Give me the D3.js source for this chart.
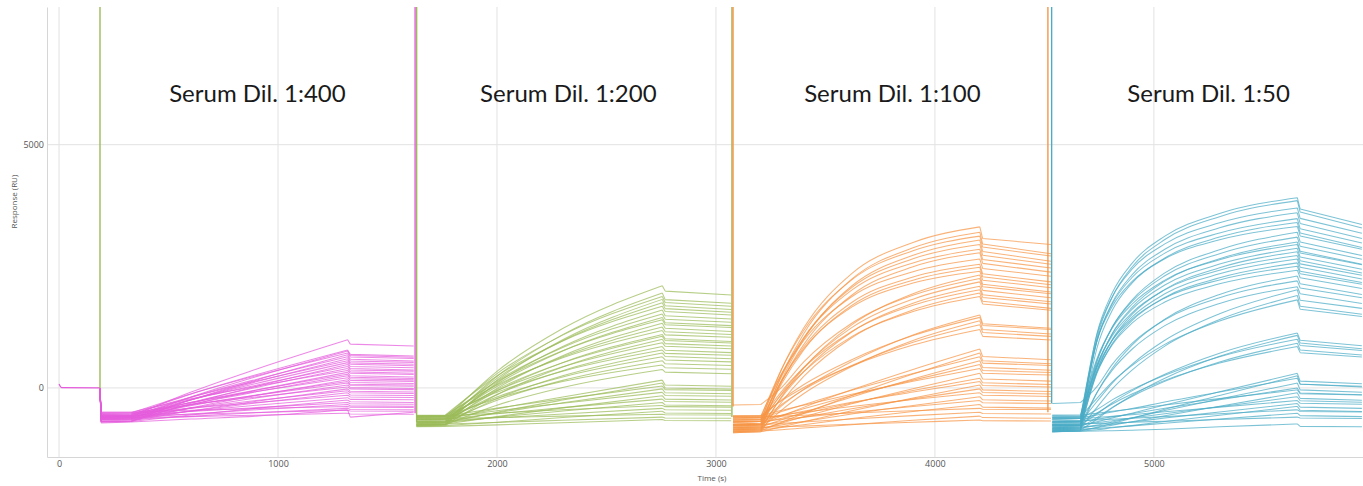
<!DOCTYPE html>
<html>
<head>
<meta charset="utf-8">
<script src="https://cdn.jsdelivr.net/npm/d3@7"></script>
<style>
  body { margin: 0; background: #fff; }
  svg { display: block; }
</style>
</head>
<body>
<div id="container"></div>
<script>
/* DATA */
const seriesNames = ["Serum Dil. 1:400", "Serum Dil. 1:200", "Serum Dil. 1:100", "Serum Dil. 1:50"];
const seriesColors = ["#e55bdc", "#9bbb59", "#f79646", "#4bacc6"];
const titleTimes = [906, 2326, 3806, 5250];
const titleValue = 5880;

const xTicks = [0, 1000, 2000, 3000, 4000, 5000];
const yTicks = [0, 5000];

// baseline before the first injection
const leadInTimes = [0, 12, 187];
const leadInValues = [80, 5, 0];

// injection / regeneration spikes: time, series colour index, foot value
const spikeTimes = [187, 1626, 1633, 3073, 3078, 4516, 4533];
const spikeSeries = [1, 0, 1, 1, 2, 2, 3];
const spikeBase = [0, -520, -700, -600, -380, -500, -320];

// Serum Dil. 1:400 — columns: baseline, assoc start, 600, 900, assoc end, after step, end
const dil400Times = [192, 330, 600, 900, 1318, 1330, 1620];
const dil400Curves = [
  [-600,-590,-90,385,990,900,860],
  [-560,-555,-130,270,780,690,655],
  [-640,-630,-190,230,760,665,630],
  [-520,-515,-125,250,720,635,605],
  [-690,-680,-250,160,680,590,555],
  [-590,-585,-195,175,640,555,525],
  [-650,-640,-250,125,600,515,485],
  [-540,-535,-190,140,560,485,455],
  [-610,-600,-250,90,520,440,415],
  [-700,-690,-320,30,480,400,370],
  [-570,-565,-245,55,440,370,345],
  [-630,-620,-300,10,400,330,300],
  [-500,-500,-225,35,360,300,275],
  [-660,-650,-345,-50,320,250,225],
  [-580,-575,-305,-45,280,220,195],
  [-620,-610,-340,-80,250,190,165],
  [-540,-535,-300,-75,210,155,135],
  [-680,-670,-410,-155,170,110,90],
  [-600,-595,-365,-145,130,75,60],
  [-560,-555,-350,-150,100,50,35],
  [-640,-630,-415,-205,60,10,-10],
  [-520,-515,-345,-185,20,-20,-35],
  [-690,-680,-475,-275,-20,-70,-85],
  [-590,-585,-420,-260,-60,-100,-115],
  [-650,-640,-475,-310,-100,-145,-155],
  [-540,-535,-415,-300,-150,-185,-195],
  [-610,-605,-480,-355,-200,-235,-245],
  [-700,-690,-555,-420,-250,-285,-300],
  [-570,-565,-485,-405,-300,-325,-335],
  [-630,-620,-535,-450,-340,-365,-375],
  [-500,-500,-460,-425,-380,-395,-400],
  [-660,-650,-585,-510,-420,-445,-450],
  [-580,-575,-540,-505,-460,-475,-480],
  [-620,-615,-590,-560,-520,-535,-540],
  [-720,-700,-640,-580,-450,-600,-500]
];

// Serum Dil. 1:200
const dil200Times = [1632, 1765, 2000, 2300, 2755, 2768, 3070];
const dil200Curves = [
  [-650,-640,340,1220,2100,1990,1910],
  [-720,-705,240,1095,1950,1815,1740],
  [-600,-590,295,1085,1880,1755,1680],
  [-770,-755,160,990,1820,1690,1610],
  [-680,-670,195,970,1750,1630,1555],
  [-560,-555,245,965,1680,1570,1500],
  [-740,-725,100,850,1600,1485,1415],
  [-630,-620,145,830,1520,1410,1350],
  [-700,-690,75,760,1450,1340,1280],
  [-590,-580,125,765,1400,1300,1240],
  [-760,-745,-10,660,1330,1225,1160],
  [-660,-650,30,640,1250,1155,1100],
  [-570,-560,60,620,1180,1090,1040],
  [-720,-710,-65,520,1100,1010,955],
  [-640,-630,-30,515,1060,975,925],
  [-780,-765,-140,430,1000,910,860],
  [-610,-600,-55,435,930,855,805],
  [-690,-680,-135,355,850,775,725],
  [-580,-570,-90,345,780,710,670],
  [-750,-735,-220,250,720,645,600],
  [-650,-640,-185,225,640,575,535],
  [-710,-700,-255,155,560,495,460],
  [-600,-590,-215,130,470,415,385],
  [-770,-755,-355,10,380,325,290],
  [-660,-650,-430,-185,160,60,35],
  [-730,-720,-500,-250,100,0,-25],
  [-590,-580,-415,-225,40,-35,-55],
  [-700,-690,-510,-305,-20,-100,-120],
  [-620,-610,-470,-315,-90,-155,-170],
  [-760,-745,-590,-410,-160,-230,-250],
  [-650,-640,-530,-405,-230,-280,-295],
  [-720,-710,-600,-475,-300,-350,-365],
  [-580,-575,-520,-450,-360,-385,-395],
  [-690,-680,-615,-535,-420,-450,-460],
  [-790,-775,-705,-610,-480,-515,-525],
  [-640,-630,-610,-580,-540,-550,-555],
  [-750,-740,-710,-665,-600,-620,-625],
  [-800,-790,-760,-715,-650,-670,-675]
];

// Serum Dil. 1:100
const dil100Times = [3078, 3205, 3300, 3400, 3620, 3900, 4205, 4218, 4530];
const dil100Curves = [
  [-700,-690,385,1225,2350,2990,3310,3070,2950],
  [-820,-800,265,1110,2235,2880,3200,2960,2760],
  [-620,-610,390,1175,2220,2820,3120,2895,2710],
  [-900,-880,165,990,2095,2725,3040,2805,2605],
  [-760,-745,240,1020,2060,2655,2950,2725,2540],
  [-660,-650,290,1025,2010,2570,2850,2640,2465],
  [-860,-840,125,885,1905,2490,2780,2560,2380],
  [-580,-575,290,970,1875,2390,2650,2455,2295],
  [-740,-725,145,835,1755,2280,2540,2345,2180],
  [-800,-785,85,775,1695,2215,2480,2285,2120],
  [-680,-670,150,800,1660,2155,2400,2215,2060],
  [-880,-860,-175,400,1295,1935,2320,2130,1970],
  [-350,-340,10,530,1330,1905,2250,2080,1935],
  [-760,-745,-115,415,1240,1825,2180,2005,1855],
  [-840,-825,-195,330,1150,1740,2090,1915,1770],
  [-660,-650,-70,410,1160,1700,2020,1860,1725],
  [-920,-900,-290,230,1030,1605,1950,1780,1635],
  [-700,-690,-130,330,1055,1570,1880,1725,1595],
  [-780,-765,-370,-30,540,1090,1500,1320,1225],
  [-620,-610,-245,65,580,1075,1450,1285,1200],
  [-860,-845,-455,-120,440,975,1380,1200,1110],
  [-700,-690,-340,-40,460,940,1300,1140,1060],
  [-580,-575,-260,5,450,880,1200,1060,985],
  [-760,-745,-575,-400,-40,380,800,645,580],
  [-900,-880,-705,-525,-155,285,720,560,495],
  [-640,-630,-485,-345,-50,295,640,510,460],
  [-820,-805,-655,-505,-185,185,560,420,365],
  [-700,-690,-560,-430,-155,160,480,360,315],
  [-580,-575,-460,-355,-130,135,400,300,265],
  [-860,-845,-720,-595,-325,-15,300,185,140],
  [-740,-725,-625,-525,-310,-55,200,105,70],
  [-660,-650,-565,-480,-295,-85,130,50,20],
  [-920,-900,-800,-695,-470,-205,60,-40,-75],
  [-780,-765,-690,-605,-430,-225,-20,-95,-125],
  [-620,-610,-560,-500,-380,-240,-100,-150,-175],
  [-840,-825,-760,-690,-535,-360,-180,-245,-270],
  [-700,-690,-645,-600,-500,-380,-260,-305,-320],
  [-880,-865,-815,-755,-630,-485,-340,-395,-415],
  [-600,-595,-580,-560,-515,-470,-420,-440,-445],
  [-760,-750,-730,-700,-640,-570,-500,-525,-535],
  [-900,-885,-860,-825,-755,-665,-580,-610,-625],
  [-820,-810,-800,-785,-745,-705,-660,-675,-680]
];

// Serum Dil. 1:50
const dil50Times = [4536, 4665, 4740, 4810, 4900, 5050, 5300, 5655, 5668, 5950];
const dil50Curves = [
  [-750,-740,1115,1955,2560,3120,3585,3910,3680,3360],
  [-860,-845,1025,1870,2485,3050,3520,3850,3615,3285],
  [-640,-630,1095,1875,2440,2960,3395,3700,3485,3180],
  [-800,-785,960,1750,2325,2850,3290,3600,3380,3070],
  [-700,-690,970,1725,2270,2770,3185,3480,3270,2980],
  [-900,-880,820,1595,2155,2670,3100,3400,3185,2885],
  [-600,-595,970,1675,2185,2655,3045,3320,3125,2850],
  [-780,-770,535,1250,1805,2365,2840,3200,3000,2720],
  [-680,-670,565,1250,1775,2305,2760,3100,2910,2645],
  [-840,-825,425,1120,1655,2195,2655,3000,2810,2540],
  [-560,-555,600,1230,1720,2215,2635,2950,2775,2530],
  [-720,-710,465,1110,1615,2115,2545,2870,2690,2440],
  [-880,-865,335,995,1510,2025,2470,2800,2615,2360],
  [-640,-630,470,1075,1545,2015,2420,2720,2550,2315],
  [-760,-750,365,980,1455,1935,2345,2650,2480,2240],
  [-820,-805,300,910,1385,1860,2265,2570,2400,2165],
  [-600,-590,425,980,1415,1850,2220,2500,2345,2130],
  [-700,-690,330,890,1330,1765,2140,2420,2265,2045],
  [-860,-845,-100,405,880,1415,1920,2300,2140,1920],
  [-320,-300,25,485,915,1400,1855,2200,2055,1855],
  [-780,-770,-95,365,795,1280,1735,2080,1935,1735],
  [-720,-710,-280,100,485,980,1525,2020,1800,1635],
  [-840,-825,-400,-20,365,860,1405,1900,1680,1515],
  [-600,-595,-215,125,460,895,1375,1810,1615,1470],
  [-760,-750,-535,-305,-60,280,715,1130,980,865],
  [-880,-865,-645,-410,-155,200,650,1080,925,805],
  [-640,-630,-445,-245,-35,260,640,1000,870,770],
  [-820,-805,-610,-400,-175,135,535,920,780,675],
  [-700,-690,-515,-330,-125,155,510,850,725,635],
  [-780,-770,-695,-620,-520,-350,-80,300,140,85],
  [-900,-885,-810,-730,-625,-440,-155,250,80,20],
  [-620,-610,-555,-495,-425,-290,-85,200,75,35],
  [-840,-825,-765,-700,-615,-465,-230,100,-40,-90],
  [-700,-690,-645,-595,-530,-420,-245,0,-105,-140],
  [-560,-555,-520,-480,-435,-350,-220,-40,-120,-145],
  [-880,-865,-820,-765,-695,-570,-375,-100,-215,-255],
  [-760,-750,-715,-675,-620,-530,-385,-180,-265,-295],
  [-640,-630,-610,-585,-550,-490,-395,-260,-315,-335],
  [-820,-805,-780,-745,-700,-620,-495,-320,-395,-420],
  [-900,-885,-860,-820,-775,-690,-560,-380,-460,-485],
  [-680,-670,-660,-645,-625,-590,-530,-450,-485,-495],
  [-860,-845,-835,-810,-780,-725,-640,-520,-570,-590],
  [-740,-730,-730,-720,-705,-685,-650,-600,-620,-630],
  [-900,-890,-885,-880,-870,-850,-800,-740,-790,-800]
];

const cycleTimes = [dil400Times, dil200Times, dil100Times, dil50Times];
const cycleCurves = [dil400Curves, dil200Curves, dil100Curves, dil50Curves];

/* CONSTANTS AND GLOBALS */
const width = 1363,
  height = 486,
  margin = { top: 7, bottom: 29, left: 47, right: 0 };

/* SCALES */
const xScale = d3.scaleLinear()
  .domain([-55, 5955])
  .range([margin.left, width - margin.right]);

const yScale = d3.scaleLinear()
  .domain([-1420, 7830])
  .range([height - margin.bottom, margin.top]);

/* HTML ELEMENTS */
const svg = d3.select("#container")
  .append("svg")
  .attr("width", width)
  .attr("height", height)
  .style("font-family", "'Open Sans', 'Noto Sans', sans-serif");

svg.append("defs").append("clipPath")
  .attr("id", "plot-clip")
  .append("rect")
  .attr("x", margin.left)
  .attr("y", margin.top)
  .attr("width", width - margin.left - margin.right)
  .attr("height", height - margin.top - margin.bottom);

// grid
svg.append("g")
  .selectAll("line")
  .data(xTicks)
  .join("line")
  .attr("x1", d => xScale(d))
  .attr("x2", d => xScale(d))
  .attr("y1", margin.top)
  .attr("y2", height - margin.bottom)
  .attr("stroke", "#e2e2e2");

svg.append("g")
  .selectAll("line")
  .data(yTicks)
  .join("line")
  .attr("x1", margin.left)
  .attr("x2", width - margin.right)
  .attr("y1", d => yScale(d))
  .attr("y2", d => yScale(d))
  .attr("stroke", "#e2e2e2");

// axes
const xAxis = d3.axisBottom(xScale).tickValues(xTicks).tickFormat(d3.format("d")).tickSize(0).tickPadding(4);
const yAxis = d3.axisLeft(yScale).tickValues(yTicks).tickFormat(d3.format("d")).tickSize(0).tickPadding(3);

const gx = svg.append("g")
  .attr("transform", `translate(0, ${height - margin.bottom})`)
  .call(xAxis);
const gy = svg.append("g")
  .attr("transform", `translate(${margin.left}, 0)`)
  .call(yAxis);

[gx, gy].forEach(g => {
  g.select(".domain").attr("stroke", "#d6d6d6");
  g.selectAll("text")
    .attr("fill", "#555")
    .style("font-size", "9px")
    .style("font-family", "'Open Sans', sans-serif");
});

svg.append("text")
  .attr("x", 712)
  .attr("y", 481)
  .attr("text-anchor", "middle")
  .attr("fill", "#555")
  .style("font-size", "8px")
  .text("Time (s)");

svg.append("text")
  .attr("transform", `translate(17, ${yScale(3830)}) rotate(-90)`)
  .attr("text-anchor", "middle")
  .attr("fill", "#555")
  .style("font-size", "8px")
  .text("Response (RU)");

// curves: baseline, association and dissociation are drawn as separate
// smooth pieces so the kinks at injection start and end stay sharp
const line = d3.line()
  .x(d => xScale(d[0]))
  .y(d => yScale(d[1]))
  .curve(d3.curveMonotoneX);

function curvePath(pts, lead) {
  const e = pts.length - 3;
  const parts = [pts.slice(0, 2), pts.slice(1, e + 1), pts.slice(e, e + 2), pts.slice(e + 1)];
  if (lead) parts.unshift([lead, pts[0]]);
  return parts.map(p => line(p)).join("");
}

const plot = svg.append("g").attr("clip-path", "url(#plot-clip)");

plot.append("path")
  .attr("d", line(leadInTimes.map((t, i) => [t, leadInValues[i]])))
  .attr("fill", "none")
  .attr("stroke", seriesColors[0])
  .attr("stroke-width", 1.3);

const leadEnd = [leadInTimes[leadInTimes.length - 1], leadInValues[leadInValues.length - 1]];

cycleCurves.forEach((curves, c) => {
  const times = cycleTimes[c];
  const data = curves.map(row => times.map((t, i) => [t, row[i]]));
  plot.append("g")
    .selectAll("path")
    .data(data)
    .join("path")
    .attr("d", d => curvePath(d, c === 0 ? leadEnd : null))
    .attr("fill", "none")
    .attr("stroke", seriesColors[c])
    .attr("stroke-width", 1.05)
    .attr("stroke-opacity", 0.72);
});

// spikes
plot.append("g")
  .selectAll("line")
  .data(spikeTimes)
  .join("line")
  .attr("x1", d => xScale(d))
  .attr("x2", d => xScale(d))
  .attr("y1", (d, i) => yScale(spikeBase[i]))
  .attr("y2", yScale(yScale.domain()[1]))
  .attr("stroke", (d, i) => seriesColors[spikeSeries[i]])
  .attr("stroke-width", 1.4);

// panel titles
svg.append("g")
  .selectAll("text")
  .data(seriesNames)
  .join("text")
  .attr("x", (d, i) => xScale(titleTimes[i]))
  .attr("y", yScale(titleValue))
  .attr("text-anchor", "middle")
  .attr("fill", "#1a1a1a")
  .style("font-family", "Lato, 'Open Sans', sans-serif")
  .style("font-size", "24px")
  .text(d => d);
</script>
</body>
</html>
